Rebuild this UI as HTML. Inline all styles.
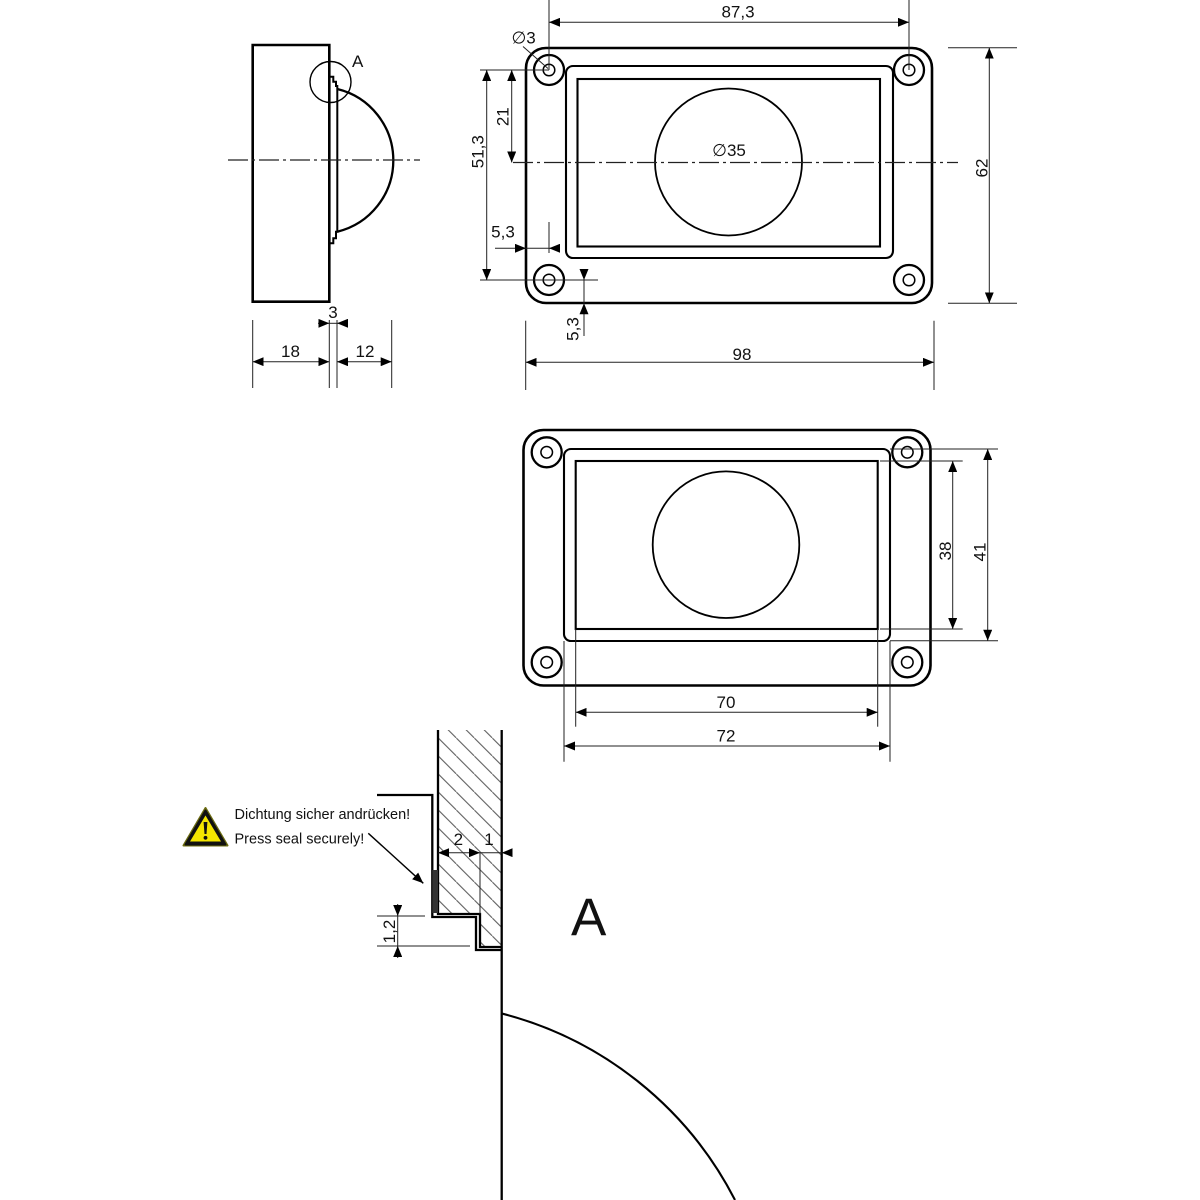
<!DOCTYPE html>
<html><head><meta charset="utf-8"><style>
html,body{margin:0;padding:0;background:#fff;}
svg{display:block;}
text{font-family:"Liberation Sans",Arial,sans-serif;fill:#111;}
</style></head><body>
<svg width="1200" height="1200" viewBox="0 0 1200 1200" xmlns="http://www.w3.org/2000/svg">
<defs>
<marker id="ar" viewBox="0 0 11 9" refX="11" refY="4.5" markerWidth="11" markerHeight="9" markerUnits="userSpaceOnUse" orient="auto-start-reverse">
<path d="M0,0 L11,4.5 L0,9 z" fill="#000"/>
</marker>
<pattern id="hatch" patternUnits="userSpaceOnUse" x="6.3" y="0" width="18" height="18">
<path d="M-2,-2 L20,20" stroke="#555" stroke-width="1"/>
</pattern>
<clipPath id="hclip"><polygon points="438,730 501.7,730 501.7,947 480,947 480,914 438,914"/></clipPath>
</defs>

<!-- ============ SIDE VIEW ============ -->
<g fill="none" stroke="#000">
<path d="M252.7,45 H329.3 V301.7 H252.7 Z" stroke-width="2.6"/>
<path d="M329.3,76.7 H333.3 V81.7 H336 V86 H337.3 V231.7 H336 V238.3 H333.3 V243.3 H329.3" stroke-width="2"/>
<path d="M337.3,89 A73.45,73.45 0 0 1 337.3,231.7" stroke-width="2.3"/>
<circle cx="330.5" cy="82" r="20.5" stroke-width="1.4"/>
<line x1="228" y1="160" x2="420" y2="160" stroke="#222" stroke-width="1.2" stroke-dasharray="20 4 3 4"/>
</g>
<text x="352" y="67" font-size="17">A</text>

<!-- side view dims -->
<g stroke="#222" stroke-width="1" fill="none">
<line x1="252.7" y1="320" x2="252.7" y2="388"/>
<line x1="329.3" y1="320" x2="329.3" y2="388"/>
<line x1="337" y1="320" x2="337" y2="388"/>
<line x1="391.7" y1="320" x2="391.7" y2="388"/>
<line x1="318" y1="323.3" x2="329.3" y2="323.3" marker-end="url(#ar)"/>
<line x1="348" y1="323.3" x2="337" y2="323.3" marker-end="url(#ar)"/>
<line x1="329.3" y1="323.3" x2="337" y2="323.3"/>
<line x1="252.7" y1="361.7" x2="329.3" y2="361.7" marker-start="url(#ar)" marker-end="url(#ar)"/>
<line x1="337" y1="361.7" x2="391.7" y2="361.7" marker-start="url(#ar)" marker-end="url(#ar)"/>
</g>
<text x="333" y="318" font-size="17" text-anchor="middle">3</text>
<text x="290.5" y="357" font-size="17" text-anchor="middle">18</text>
<text x="365" y="357" font-size="17" text-anchor="middle">12</text>

<!-- ============ TOP VIEW ============ -->
<g fill="none" stroke="#000">
<rect x="526" y="48" width="406" height="255" rx="20" ry="20" stroke-width="2.6"/>
<rect x="566" y="66" width="327" height="192" rx="7" ry="7" stroke-width="2.1"/>
<rect x="577.5" y="79" width="302.5" height="167.5" stroke-width="2.1"/>
<circle cx="728.5" cy="162" r="73.5" stroke-width="1.8"/>
<circle cx="549" cy="70" r="15" stroke-width="2.3"/>
<circle cx="549" cy="70" r="5.8" stroke-width="1.5"/>
<circle cx="909" cy="70" r="15" stroke-width="2.3"/>
<circle cx="909" cy="70" r="5.8" stroke-width="1.5"/>
<circle cx="549" cy="280" r="15" stroke-width="2.3"/>
<circle cx="549" cy="280" r="5.8" stroke-width="1.5"/>
<circle cx="909" cy="280" r="15" stroke-width="2.3"/>
<circle cx="909" cy="280" r="5.8" stroke-width="1.5"/>
<line x1="513" y1="162.5" x2="958" y2="162.5" stroke="#222" stroke-width="1.2" stroke-dasharray="20 4 3 4"/>
</g>
<g stroke="#222" stroke-width="1" fill="none">
<!-- 87,3 -->
<line x1="549" y1="0" x2="549" y2="70"/>
<line x1="909" y1="0" x2="909" y2="70"/>
<line x1="549" y1="22.3" x2="909" y2="22.3" marker-start="url(#ar)" marker-end="url(#ar)"/>
<!-- dia 3 leader -->
<line x1="523" y1="46.5" x2="548" y2="68.5"/>
<!-- 51,3 and 21 -->
<line x1="480" y1="70" x2="549" y2="70"/>
<line x1="480" y1="280" x2="598" y2="280"/>
<line x1="486.7" y1="70" x2="486.7" y2="280" marker-start="url(#ar)" marker-end="url(#ar)"/>
<line x1="511.7" y1="70" x2="511.7" y2="162.5" marker-start="url(#ar)" marker-end="url(#ar)"/>
<!-- 5,3 horizontal -->
<line x1="549" y1="222" x2="549" y2="253"/>
<line x1="495" y1="248.3" x2="526" y2="248.3" marker-end="url(#ar)"/>
<line x1="560" y1="248.3" x2="549" y2="248.3" marker-end="url(#ar)"/>
<line x1="526" y1="248.3" x2="549" y2="248.3"/>
<!-- 5,3 vertical -->
<line x1="584" y1="269" x2="584" y2="280" marker-end="url(#ar)"/>
<line x1="584" y1="336" x2="584" y2="303.3" marker-end="url(#ar)"/>
<line x1="584" y1="280" x2="584" y2="303.3"/>
<!-- 62 -->
<line x1="948" y1="47.7" x2="1017" y2="47.7"/>
<line x1="948" y1="303.3" x2="1017" y2="303.3"/>
<line x1="989.3" y1="47.7" x2="989.3" y2="303.3" marker-start="url(#ar)" marker-end="url(#ar)"/>
<!-- 98 -->
<line x1="525.7" y1="320.7" x2="525.7" y2="390"/>
<line x1="934" y1="320.7" x2="934" y2="390"/>
<line x1="525.7" y1="362.3" x2="934" y2="362.3" marker-start="url(#ar)" marker-end="url(#ar)"/>
</g>
<text x="738" y="17.5" font-size="17" text-anchor="middle">87,3</text>
<text x="511.5" y="43.5" font-size="17">∅3</text>
<text x="729" y="156" font-size="17" text-anchor="middle">∅35</text>
<text x="503" y="237.5" font-size="17" text-anchor="middle">5,3</text>
<text transform="translate(483.5,151.7) rotate(-90)" font-size="17" text-anchor="middle">51,3</text>
<text transform="translate(508.3,116.7) rotate(-90)" font-size="17" text-anchor="middle">21</text>
<text transform="translate(578.5,329) rotate(-90)" font-size="17" text-anchor="middle">5,3</text>
<text transform="translate(987.5,168) rotate(-90)" font-size="17" text-anchor="middle">62</text>
<text x="742" y="360" font-size="17" text-anchor="middle">98</text>

<!-- ============ SECOND VIEW ============ -->
<g fill="none" stroke="#000">
<rect x="523.5" y="430" width="407" height="255.5" rx="20" ry="20" stroke-width="2.6"/>
<rect x="564" y="449" width="326" height="192" rx="7" ry="7" stroke-width="2.1"/>
<rect x="575.7" y="461" width="302" height="168" stroke-width="2.1"/>
<circle cx="726" cy="544.7" r="73.3" stroke-width="1.8"/>
<circle cx="546.7" cy="452.3" r="15" stroke-width="2.3"/>
<circle cx="546.7" cy="452.3" r="5.8" stroke-width="1.5"/>
<circle cx="907.3" cy="452.3" r="15" stroke-width="2.3"/>
<circle cx="907.3" cy="452.3" r="5.8" stroke-width="1.5"/>
<circle cx="546.7" cy="662.3" r="15" stroke-width="2.3"/>
<circle cx="546.7" cy="662.3" r="5.8" stroke-width="1.5"/>
<circle cx="907.3" cy="662.3" r="15" stroke-width="2.3"/>
<circle cx="907.3" cy="662.3" r="5.8" stroke-width="1.5"/>
</g>
<g stroke="#222" stroke-width="1" fill="none">
<line x1="890" y1="449" x2="998" y2="449"/>
<line x1="890" y1="640.7" x2="998" y2="640.7"/>
<line x1="880" y1="461" x2="962.7" y2="461"/>
<line x1="880" y1="629" x2="962.7" y2="629"/>
<line x1="952.7" y1="461" x2="952.7" y2="629" marker-start="url(#ar)" marker-end="url(#ar)"/>
<line x1="987.7" y1="449" x2="987.7" y2="640.7" marker-start="url(#ar)" marker-end="url(#ar)"/>
<line x1="575.7" y1="629" x2="575.7" y2="726.7"/>
<line x1="877.7" y1="629" x2="877.7" y2="726.7"/>
<line x1="564" y1="641" x2="564" y2="761.7"/>
<line x1="890" y1="641" x2="890" y2="761.7"/>
<line x1="575.7" y1="712.3" x2="877.7" y2="712.3" marker-start="url(#ar)" marker-end="url(#ar)"/>
<line x1="564" y1="746" x2="890" y2="746" marker-start="url(#ar)" marker-end="url(#ar)"/>
</g>
<text transform="translate(951,551) rotate(-90)" font-size="17" text-anchor="middle">38</text>
<text transform="translate(985.5,552) rotate(-90)" font-size="17" text-anchor="middle">41</text>
<text x="726" y="708" font-size="17" text-anchor="middle">70</text>
<text x="726" y="741.5" font-size="17" text-anchor="middle">72</text>

<!-- ============ DETAIL A ============ -->
<rect x="438" y="730" width="64" height="217" fill="url(#hatch)" clip-path="url(#hclip)"/>
<g fill="none" stroke="#000" stroke-width="2.3">
<line x1="501.7" y1="730" x2="501.7" y2="1200"/>
<path d="M438,730 V914 H480 V947 H501.7"/>
<path d="M377,795 H432.3 V917 H476 V950 H501.7"/>
<path d="M501,1013.3 A364.3,364.3 0 0 1 735,1200" stroke-width="2.1"/>
</g>
<rect x="432.3" y="870" width="5.7" height="43" fill="#333"/>
<g stroke="#222" stroke-width="1" fill="none">
<line x1="480" y1="852.7" x2="480" y2="914"/>
<line x1="438" y1="852.7" x2="480" y2="852.7" marker-start="url(#ar)" marker-end="url(#ar)"/>
<line x1="512" y1="852.7" x2="501.7" y2="852.7" marker-end="url(#ar)"/>
<line x1="480" y1="852.7" x2="501.7" y2="852.7"/>
<line x1="377" y1="916" x2="425" y2="916"/>
<line x1="377" y1="946" x2="470" y2="946"/>
<line x1="397.7" y1="904" x2="397.7" y2="916" marker-end="url(#ar)"/>
<line x1="397.7" y1="958" x2="397.7" y2="946" marker-end="url(#ar)"/>
<line x1="397.7" y1="916" x2="397.7" y2="946"/>
<line x1="368.3" y1="833.3" x2="423.3" y2="883.3" stroke="#000" stroke-width="1.4" marker-end="url(#ar)"/>
</g>
<text x="458.3" y="845" font-size="17" text-anchor="middle">2</text>
<text x="489" y="845" font-size="17" text-anchor="middle">1</text>
<text transform="translate(395,931.5) rotate(-90)" font-size="17" text-anchor="middle">1,2</text>
<text x="571" y="935" font-size="53">A</text>

<!-- warning -->
<g>
<path d="M205.5,808 L227.5,845.5 L183.5,845.5 Z" fill="#6b6b10" stroke="#6b6b10" stroke-width="2" stroke-linejoin="round"/>
<path d="M205.5,810.5 L225.5,844.5 L185.5,844.5 Z" fill="#111" stroke="#111" stroke-width="2" stroke-linejoin="round"/>
<path d="M205.5,815.5 L221,841.5 L190,841.5 Z" fill="#f4e600"/>
<path d="M203.6,822 L207.4,822 L206.5,834 L204.5,834 Z" fill="#111"/>
<circle cx="205.5" cy="837.8" r="1.9" fill="#111"/>
</g>
<text x="234.5" y="819" font-size="14.5">Dichtung sicher andrücken!</text>
<text x="234.5" y="843.3" font-size="14.5">Press seal securely!</text>
</svg>
</body></html>
